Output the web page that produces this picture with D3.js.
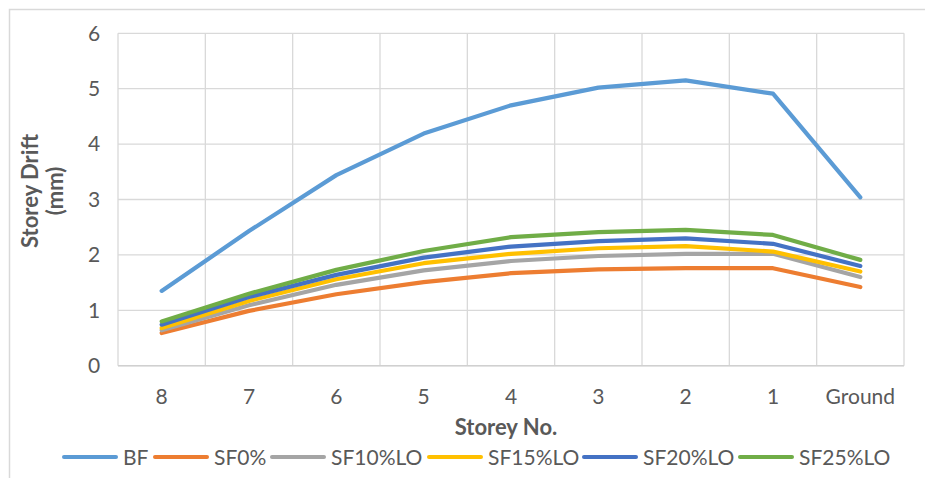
<!DOCTYPE html>
<html>
<head>
<meta charset="utf-8">
<script src="https://cdn.jsdelivr.net/npm/d3@7"></script>
<style>
  html, body { margin: 0; padding: 0; background: #fff; }
  svg { display: block; font-family: Lato, "Open Sans", sans-serif; }
</style>
</head>
<body>
<svg id="chart" width="925" height="478"></svg>
<script>
const categories = ["8", "7", "6", "5", "4", "3", "2", "1", "Ground"];
const yTicks = [0, 1, 2, 3, 4, 5, 6];
const seriesNames = ["BF", "SF0%", "SF10%LO", "SF15%LO", "SF20%LO", "SF25%LO"];
const seriesColors = ["#5B9BD5", "#ED7D31", "#A5A5A5", "#FFC000", "#4472C4", "#70AD47"];
const BF      = [1.35, 2.43, 3.44, 4.19, 4.70, 5.02, 5.15, 4.91, 3.04];
const SF0     = [0.59, 0.99, 1.29, 1.51, 1.67, 1.74, 1.76, 1.76, 1.42];
const SF10LO  = [0.64, 1.09, 1.46, 1.72, 1.89, 1.98, 2.02, 2.02, 1.60];
const SF15LO  = [0.68, 1.17, 1.56, 1.85, 2.02, 2.12, 2.16, 2.06, 1.70];
const SF20LO  = [0.74, 1.24, 1.64, 1.95, 2.15, 2.25, 2.30, 2.20, 1.80];
const SF25LO  = [0.80, 1.30, 1.73, 2.07, 2.32, 2.41, 2.45, 2.36, 1.91];
const seriesValues = [BF, SF0, SF10LO, SF15LO, SF20LO, SF25LO];

const svg = d3.select("#chart");
const plot = { left: 118, right: 904, top: 33.3, bottom: 365.7 };
const textColor = "#595959";
const gridColor = "#D9D9D9";

// outer chart border (top and left visible)
svg.append("path")
  .attr("d", "M9.5,478 L9.5,9.5 L925,9.5")
  .attr("fill", "none").attr("stroke", "#D9D9D9").attr("stroke-width", 1.5);

const x = d3.scaleBand().domain(categories).range([plot.left, plot.right]).paddingInner(0).paddingOuter(0);
const y = d3.scaleLinear().domain([0, 6]).range([plot.bottom, plot.top]);

// horizontal gridlines
svg.append("g").selectAll("line").data(yTicks).join("line")
  .attr("x1", plot.left).attr("x2", plot.right)
  .attr("y1", d => y(d)).attr("y2", d => y(d))
  .attr("stroke", gridColor).attr("stroke-width", 1.3);

// vertical gridlines at category boundaries
const bounds = categories.map(c => x(c)).concat([x(categories[categories.length - 1]) + x.bandwidth()]);
svg.append("g").selectAll("line").data(bounds).join("line")
  .attr("x1", d => d).attr("x2", d => d)
  .attr("y1", plot.top).attr("y2", plot.bottom)
  .attr("stroke", gridColor).attr("stroke-width", 1.3);

// y axis labels
const yAxis = d3.axisLeft(y).tickValues(yTicks).tickSize(0).tickPadding(0).tickFormat(d3.format("d"));
const gy = svg.append("g").attr("transform", `translate(${plot.left - 24},0)`).call(yAxis);
gy.select(".domain").remove();
gy.selectAll("text").attr("fill", textColor).attr("font-size", 21).attr("text-anchor", "middle")
  .attr("font-family", "Lato, 'Open Sans', sans-serif");

// x axis labels
const xAxis = d3.axisBottom(x).tickSize(0).tickPadding(0);
const gx = svg.append("g").attr("transform", `translate(0,${plot.bottom + 23})`).call(xAxis);
gx.select(".domain").remove();
gx.selectAll("text").attr("fill", textColor).attr("font-size", 21)
  .attr("font-family", "Lato, 'Open Sans', sans-serif");

// bottom axis line
svg.append("line").attr("x1", plot.left).attr("x2", plot.right)
  .attr("y1", plot.bottom).attr("y2", plot.bottom)
  .attr("stroke", "#D0D0D0").attr("stroke-width", 1.5);

// lines
const line = d3.line().x((d, i) => x(categories[i]) + x.bandwidth() / 2).y(d => y(d));
svg.append("g").selectAll("path").data(seriesValues).join("path")
  .attr("d", d => line(d))
  .attr("fill", "none")
  .attr("stroke", (d, i) => seriesColors[i])
  .attr("stroke-width", 4.2)
  .attr("stroke-linejoin", "round")
  .attr("stroke-linecap", "round");

// axis titles
svg.append("text").attr("x", 506).attr("y", 435).attr("text-anchor", "middle")
  .attr("font-size", 22).attr("font-weight", "bold").attr("fill", textColor)
  .text("Storey No.");
const yt = svg.append("text").attr("transform", "translate(40,191) rotate(-90)")
  .attr("text-anchor", "middle").attr("font-size", 22).attr("font-weight", "bold").attr("fill", textColor);
yt.append("tspan").attr("x", 0).attr("dy", "-0.1em").text("Storey Drift");
yt.append("tspan").attr("x", 0).attr("dy", "1.15em").text("(mm)");

// legend
const legendX = [63, 154, 271, 428, 583, 739];
const lg = svg.append("g").selectAll("g").data(seriesNames).join("g")
  .attr("transform", (d, i) => `translate(${legendX[i]},457)`);
lg.append("line").attr("x1", 1).attr("x2", 53).attr("y1", 0).attr("y2", 0)
  .attr("stroke", (d, i) => seriesColors[i]).attr("stroke-width", 4).attr("stroke-linecap", "round");
lg.append("text").attr("x", 60).attr("y", 7.5).attr("font-size", 21).attr("fill", textColor).text(d => d);
</script>
</body>
</html>
